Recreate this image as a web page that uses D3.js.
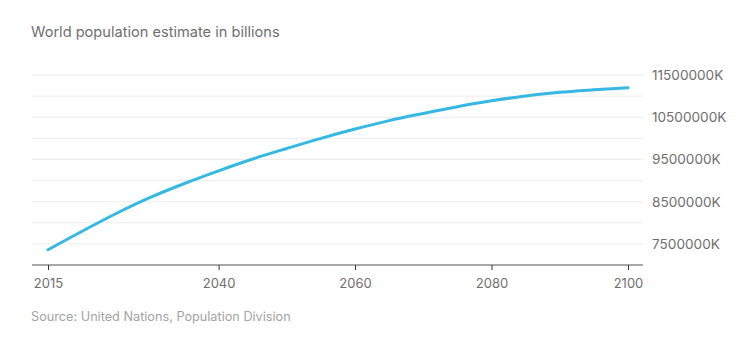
<!DOCTYPE html>
<html>
<head>
<meta charset="utf-8">
<script src="https://cdn.jsdelivr.net/npm/d3@7"></script>
<style>
  body { margin: 0; background: #fff; }
  svg { display: block; font-family: Inter, "Noto Sans", sans-serif; }
</style>
</head>
<body>
<svg></svg>
<script>
var WIDTH = 747;
var HEIGHT = 339;

// population, billions, every five years
var years = [2015, 2020, 2025, 2030, 2035, 2040, 2045, 2050, 2055, 2060,
             2065, 2070, 2075, 2080, 2085, 2090, 2095, 2100];
var population = [7.36, 7.80, 8.22, 8.60, 8.93, 9.23, 9.51, 9.76, 10.00, 10.22,
                  10.42, 10.59, 10.75, 10.89, 11.00, 11.09, 11.15, 11.20];

var xTicks = [2015, 2040, 2060, 2080, 2100];
var yLabels = [7.5, 8.5, 9.5, 10.5, 11.5];
var gridValues = [7.5, 8, 8.5, 9, 9.5, 10, 10.5, 11, 11.5];

var plotLeft = 32, plotRight = 643;

var svg = d3.select("svg")
    .attr("width", WIDTH)
    .attr("height", HEIGHT);

var x = d3.scaleLinear().domain([2015, 2100]).range([48, 628]);
var y = d3.scaleLinear().domain([7, 11.5]).range([265, 75]);

svg.append("text")
    .attr("x", 31)
    .attr("y", 37)
    .attr("fill", "#6f6f6f")
    .style("font-size", "14.6px")
    .text("World population estimate in billions");

// horizontal grid
svg.append("g")
    .selectAll("line")
    .data(gridValues)
    .enter()
    .append("line")
    .attr("x1", plotLeft)
    .attr("x2", plotRight)
    .attr("y1", function(d) { return y(d); })
    .attr("y2", function(d) { return y(d); })
    .attr("stroke", "#ececec")
    .attr("stroke-width", 1);

// value labels on the right
svg.append("g")
    .attr("transform", "translate(" + plotRight + ",0)")
    .call(d3.axisRight(y)
        .tickValues(yLabels)
        .tickSize(0)
        .tickPadding(9)
        .tickFormat(function(d) { return d3.format(".0f")(d * 1000000) + "K"; }))
    .call(function(g) {
        g.select(".domain").remove();
        g.selectAll("text")
            .attr("fill", "#6f6f6f")
            .style("font-size", "13.6px")
            .style("font-family", "Inter, 'Noto Sans', sans-serif");
    });

// baseline
svg.append("line")
    .attr("x1", plotLeft)
    .attr("x2", plotRight)
    .attr("y1", y(7))
    .attr("y2", y(7))
    .attr("stroke", "#8c8c8c")
    .attr("stroke-width", 1.5);

svg.append("g")
    .attr("transform", "translate(0," + y(7) + ")")
    .call(d3.axisBottom(x)
        .tickValues(xTicks)
        .tickSize(5)
        .tickPadding(9)
        .tickFormat(d3.format("d")))
    .call(function(g) {
        g.select(".domain").remove();
        g.selectAll("line").attr("stroke", "#333");
        g.selectAll("text")
            .attr("fill", "#6f6f6f")
            .style("font-size", "13px")
            .style("font-family", "Inter, 'Noto Sans', sans-serif");
    });

var line = d3.line()
    .x(function(d, i) { return x(years[i]); })
    .y(function(d) { return y(d); })
    .curve(d3.curveMonotoneX);

svg.append("path")
    .datum(population)
    .attr("d", line)
    .attr("fill", "none")
    .attr("stroke", "#35b8e2")
    .attr("stroke-width", 3)
    .attr("stroke-linecap", "round");

svg.append("text")
    .attr("x", 31)
    .attr("y", 321)
    .attr("fill", "#a3a3a3")
    .style("font-size", "12.7px")
    .text("Source: United Nations, Population Division");
</script>
</body>
</html>
